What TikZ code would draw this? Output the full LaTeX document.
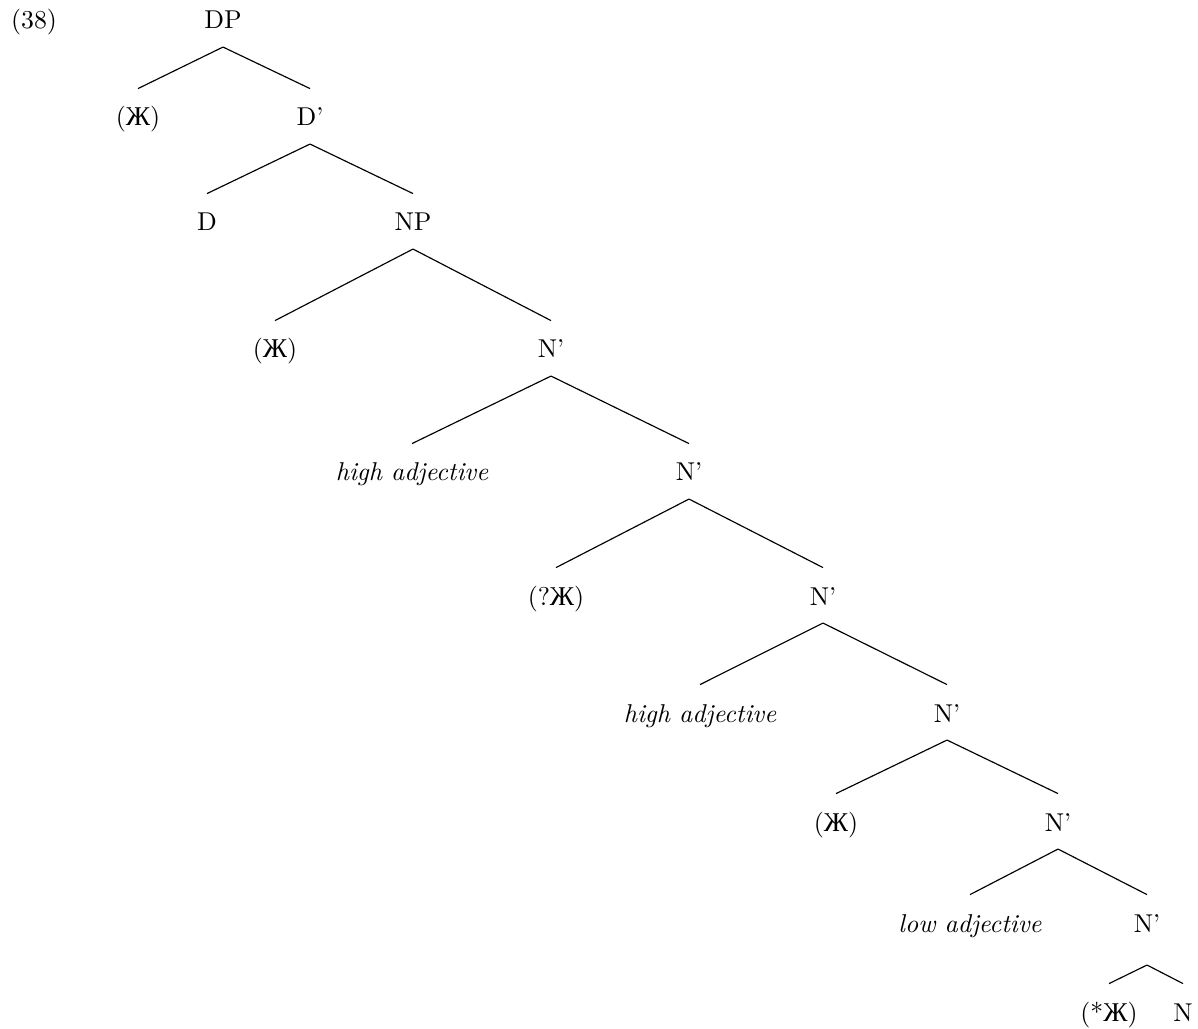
\documentclass[tikz,border=0pt]{standalone}
\usepackage{fontspec}
\newfontfamily\cyrserif{Liberation Serif}
\newcommand\ZhLetter{{\cyrserif\fontsize{10.5pt}{12pt}\selectfont Ж}}
\begin{document}
\begin{tikzpicture}[x=0.3876pt,y=-0.3876pt,
  lbl/.style={anchor=base,inner sep=0pt,font=\fontsize{10pt}{12pt}\selectfont},
  adj/.style={lbl,font=\fontsize{10pt}{12pt}\selectfont\itshape},
  edge/.style={line width=0.45pt}]
\useasboundingbox (0,0) rectangle (1198,1029);
% nodes (x = centre, y = baseline)
\node[lbl] (ex)  at (34,29)    {(38)};
\node[lbl] (dp)  at (223,29)   {DP};
\node[lbl] (z1)  at (138,126)  {(\ZhLetter)};
\node[lbl] (db)  at (310,126)  {D'};
\node[lbl] (d)   at (207,231)  {D};
\node[lbl] (np)  at (413,231)  {NP};
\node[lbl] (z2)  at (275,358)  {(\ZhLetter)};
\node[lbl] (n1)  at (551,358)  {N'};
\node[adj] (ha1) at (412,481)  {high adjective};
\node[lbl] (n2)  at (689,481)  {N'};
\node[lbl] (z3)  at (556,605)  {(?\ZhLetter)};
\node[lbl] (n3)  at (823,605)  {N'};
\node[adj] (ha2) at (700,722)  {high adjective};
\node[lbl] (n4)  at (947,722)  {N'};
\node[lbl] (z4)  at (836,831)  {(\ZhLetter)};
\node[lbl] (n5)  at (1058,831) {N'};
\node[adj] (la)  at (970,932)  {low adjective};
\node[lbl] (n6)  at (1147,932) {N'};
\node[lbl] (z5)  at (1109,1021){(*\ZhLetter)};
\node[lbl] (n)   at (1183,1021){N};
% edges
\foreach \p/\c in {dp/z1,dp/db,db/d,db/np,np/z2,np/n1,n1/ha1,n1/n2,n2/z3,n2/n3,n3/ha2,n3/n4,n4/z4,n4/n5,n5/la,n5/n6}
  \draw[edge] ([yshift=-7pt]\p.base) -- ([yshift=14.5pt]\c.base);
\foreach \c in {z5,n}
  \draw[edge] ([yshift=-12.8pt]n6.base) -- ([yshift=14.5pt]\c.base);
\end{tikzpicture}
\end{document}
